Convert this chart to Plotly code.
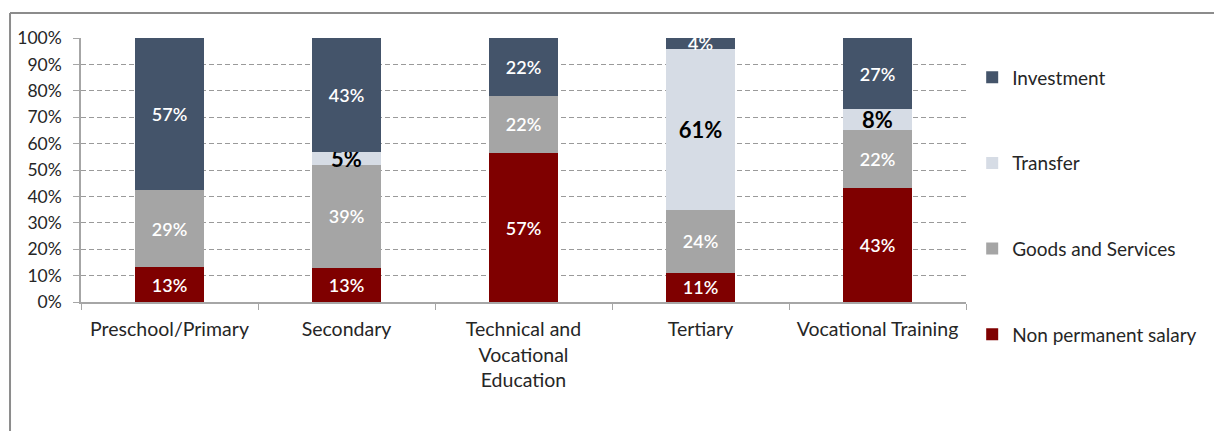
import plotly.graph_objects as go

# Budget composition by education level (shares, %)
categories = [
    "Preschool/Primary",
    "Secondary",
    "Technical and<br>Vocational<br>Education",
    "Tertiary",
    "Vocational Training",
]
non_permanent_salary = [13, 13, 57, 11, 43]
goods_and_services = [29, 39, 22, 24, 22]
transfer = [0, 5, 0, 61, 8]
investment = [57, 43, 22, 4, 27]

FONT = "Lato"
GRID = "#9a9a9a"
AXIS = "#a6a6a6"
TEXT = "#262626"

# name, values, fill, label colour, label size, label weight, legend rank
series = [
    ("Non permanent salary", non_permanent_salary, "#7f0000", "white", 18, 600, 4),
    ("Goods and Services", goods_and_services, "#a5a5a5", "white", 18, 600, 3),
    ("Transfer", transfer, "#d6dce5", "black", 22, 700, 2),
    ("Investment", investment, "#44546a", "white", 18, 600, 1),
]

fig = go.Figure()
for i, (name, vals, color, tcolor, tsize, tweight, rank) in enumerate(series):
    fig.add_trace(go.Bar(
        name=name,
        x=categories,
        y=vals,
        marker=dict(color=color, line=dict(width=0)),
        text=[f"{v}%" if v > 0 else "" for v in vals],
        textposition="inside",
        insidetextanchor="middle",
        constraintext="none",
        textangle=0,
        textfont=dict(family=FONT, color=tcolor, size=tsize, weight=tweight),
        legendgroup=f"g{i}",
        legendrank=rank,
        hoverinfo="skip",
    ))

fig.update_layout(
    width=1214,
    height=431,
    barmode="stack",
    barnorm="percent",
    bargap=0.605,
    plot_bgcolor="white",
    paper_bgcolor="white",
    margin=dict(l=81, r=248, t=38, b=129),
    font=dict(family=FONT, size=18, color=TEXT),
    showlegend=True,
    legend=dict(
        x=1.007,
        y=0.923,
        xanchor="left",
        yanchor="top",
        traceorder="grouped",
        tracegroupgap=58,
        maxheight=1000,
        font=dict(family=FONT, size=19, color=TEXT),
        itemwidth=30,
        bgcolor="rgba(0,0,0,0)",
    ),
    xaxis=dict(
        showline=True,
        linecolor=AXIS,
        linewidth=1.5,
        ticks="outside",
        tickson="boundaries",
        ticklen=6,
        tickcolor=AXIS,
        ticklabelstandoff=9,
        tickfont=dict(family=FONT, size=19.5, color=TEXT),
        showgrid=False,
    ),
    yaxis=dict(
        range=[0, 100],
        dtick=10,
        ticksuffix="%",
        showline=True,
        linecolor=AXIS,
        linewidth=1.5,
        ticks="outside",
        ticklen=6,
        tickcolor=AXIS,
        ticklabelstandoff=8,
        tickfont=dict(family=FONT, size=17.5, color=TEXT),
        showgrid=True,
        gridcolor=GRID,
        griddash="5px,3px",
        gridwidth=1,
        zeroline=False,
    ),
    shapes=[
        dict(type="line", xref="paper", yref="paper",
             x0=-0.0802, x1=1.3, y0=1.0947, y1=1.0947,
             line=dict(color="#8c8c8c", width=2)),
        dict(type="line", xref="paper", yref="paper",
             x0=-0.0802, x1=-0.0802, y0=1.0947, y1=-0.5,
             line=dict(color="#8c8c8c", width=2)),
    ],
)

fig.write_html("out.html")
